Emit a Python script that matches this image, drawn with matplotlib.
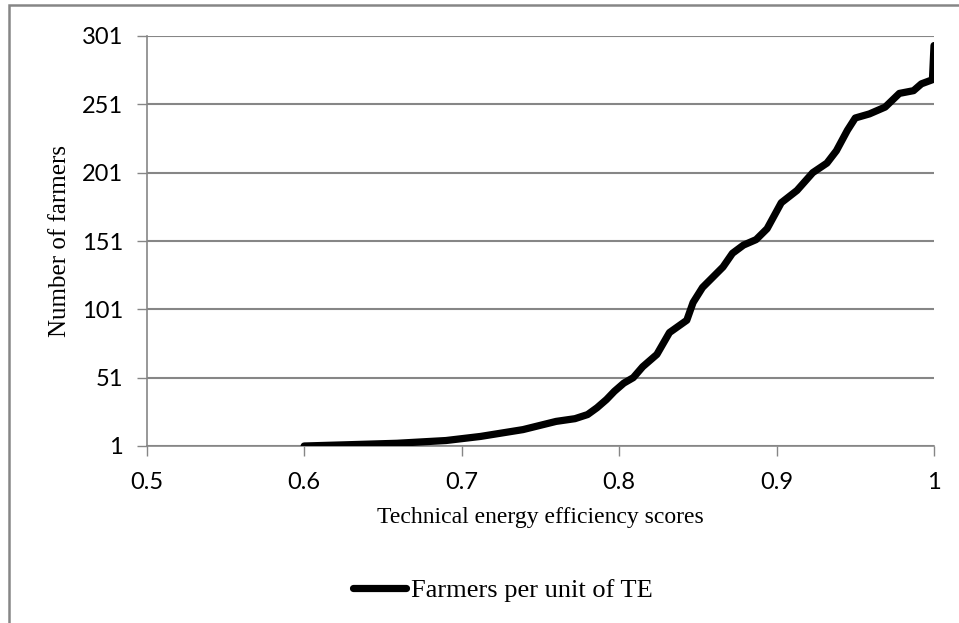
import matplotlib.pyplot as plt
from matplotlib.patches import Rectangle

# --- Data ---
te_scores = [0.600, 0.630, 0.659, 0.690, 0.712, 0.739, 0.760, 0.772, 0.780, 0.786,
             0.792, 0.797, 0.803, 0.809, 0.815, 0.824, 0.832, 0.843, 0.847, 0.853,
             0.866, 0.872, 0.879, 0.887, 0.894, 0.903, 0.913, 0.923, 0.932, 0.938,
             0.945, 0.950, 0.959, 0.969, 0.978, 0.987, 0.992, 0.999, 1.000]
farmers = [1, 2, 3, 5, 8, 13, 19, 21, 24, 29,
           35, 41, 47, 51, 59, 68, 84, 93, 106, 117,
           132, 142, 148, 152, 160, 179, 188, 201, 208, 217,
           232, 241, 244, 249, 259, 261, 266, 269, 294]
x_ticks = [0.5, 0.6, 0.7, 0.8, 0.9, 1.0]
x_tick_labels = ["0.5", "0.6", "0.7", "0.8", "0.9", "1"]
y_ticks = [1, 51, 101, 151, 201, 251, 301]

series_name = "Farmers per unit of TE"
x_label = "Technical energy efficiency scores"
y_label = "Number of farmers"

W, H = 959, 623
grey = "#868686"
serif = ["Liberation Serif", "DejaVu Serif"]
sans = ["Lato", "DejaVu Sans"]

fig = plt.figure(figsize=(W / 100, H / 100), dpi=100)
ax = fig.add_axes([146.7 / W, 1 - 446 / H, (934 - 146.7) / W, (446 - 36) / H])

ax.plot(te_scores, farmers, color="black", linewidth=5.2, solid_joinstyle="round",
        solid_capstyle="round", label=series_name, zorder=3)

ax.set_xlim(0.5, 1.0)
ax.set_ylim(1, 301)
ax.set_xticks(x_ticks)
ax.set_xticklabels(x_tick_labels)
ax.set_yticks(y_ticks)

ax.grid(axis="y", color=grey, linewidth=1.5)
ax.set_axisbelow(True)
for side in ["top", "right"]:
    ax.spines[side].set_visible(False)
for side in ["left", "bottom"]:
    ax.spines[side].set_color(grey)
    ax.spines[side].set_linewidth(1.2)

ax.tick_params(axis="both", direction="out", length=7, width=1, color=grey,
               labelsize=17, labelcolor="black")
ax.tick_params(axis="y", pad=10)
ax.tick_params(axis="x", pad=12)
for lab in ax.get_xticklabels() + ax.get_yticklabels():
    lab.set_family(sans)

ax.set_xlabel(x_label, fontsize=17, family=serif, labelpad=10)
ax.set_ylabel(y_label, fontsize=18, family=serif, labelpad=8)

# legend below the plot
fig.legend(loc="center", bbox_to_anchor=(503 / W, 1 - 590 / H), frameon=False,
           prop={"family": serif, "size": 19}, handlelength=2.0, handletextpad=0.2)

# chart-area border (left and top edges visible)
fig.patches.append(Rectangle((9 / W, -0.05), 1.2, 1 - 5 / H + 0.05,
                             transform=fig.transFigure, fill=False,
                             edgecolor=grey, linewidth=1.8))

plt.savefig("out.png", dpi=100)
